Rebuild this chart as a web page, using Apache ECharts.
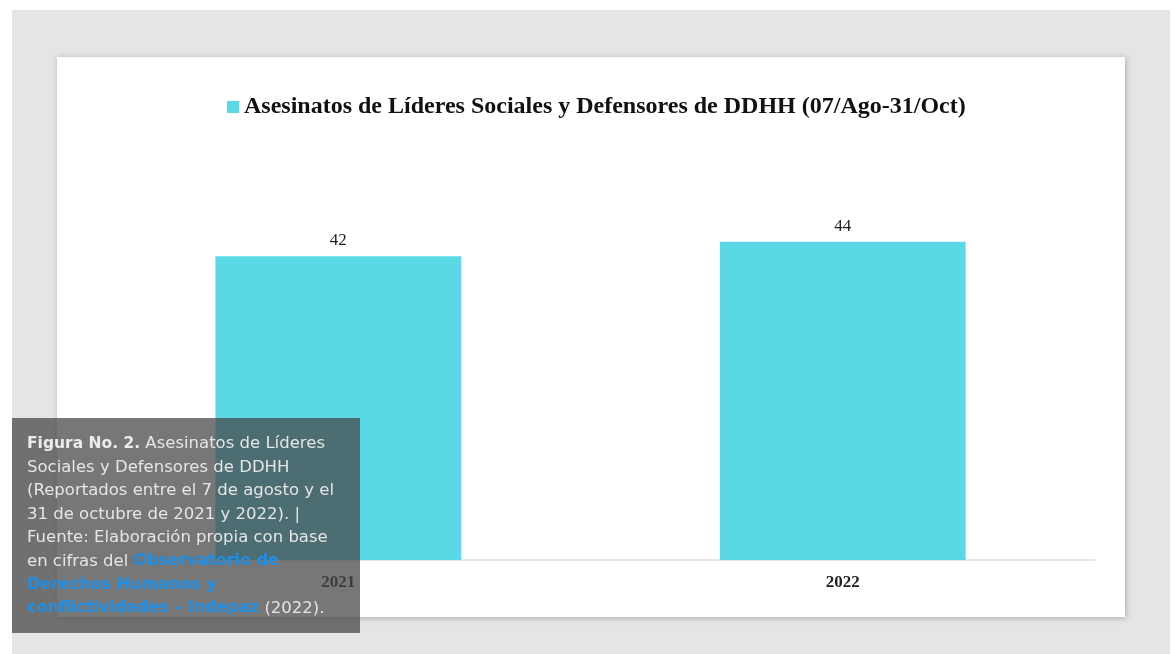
<!DOCTYPE html>
<html>
<head>
<meta charset="utf-8">
<script src="https://cdn.jsdelivr.net/npm/echarts@6/dist/echarts.min.js"></script>
<style>
html,body{margin:0;padding:0;background:#fff;}
#c{width:1173px;height:654px;}
</style>
</head>
<body>
<div id="c"></div>
<script>
const categories = ['2021', '2022'];
const seriesName = 'Asesinatos de Líderes Sociales y Defensores de DDHH (07/Ago-31/Oct)';
const values = [42, 44];
const captionLines = [
  [['b', 'Figura No. 2.'], ['n', ' Asesinatos de Líderes']],
  [['n', 'Sociales y Defensores de DDHH']],
  [['n', '(Reportados entre el 7 de agosto y el']],
  [['n', '31 de octubre de 2021 y 2022). |']],
  [['n', 'Fuente: Elaboración propia con base']],
  [['n', 'en cifras del '], ['l', 'Observatorio de']],
  [['l', 'Derechos Humanos y']],
  [['l', 'conflictividades – Indepaz'], ['n', ' (2022).']]
];

const captionText = captionLines.map(line => line.map(([k, t]) => '{' + k + '|' + t + '}').join('')).join('\n');

const chart = echarts.init(document.getElementById('c'));
chart.setOption({
  backgroundColor: '#ffffff',
  animation: false,
  legend: {
    top: 90,
    left: 222,
    icon: 'rect',
    itemWidth: 12,
    itemHeight: 12,
    itemGap: 6,
    textStyle: { fontFamily: 'Liberation Serif', fontWeight: 'bold', fontSize: 24, color: '#111' },
    data: [seriesName]
  },
  grid: { left: 86, right: 78, top: 126, bottom: 94, containLabel: false },
  xAxis: {
    type: 'category',
    data: categories,
    axisLine: { lineStyle: { color: '#e0e0e0', width: 1.5 } },
    axisTick: { show: false },
    axisLabel: { fontFamily: 'Liberation Serif', fontWeight: 'bold', fontSize: 17, color: '#222', margin: 14 }
  },
  yAxis: {
    type: 'value', min: 0, max: 60,
    show: false,
    splitLine: { show: false }
  },
  series: [{
    name: seriesName,
    type: 'bar',
    data: values,
    barWidth: '48.7%',
    itemStyle: { color: '#5ad8e6' },
    label: { show: true, position: 'top', distance: 7, fontFamily: 'Liberation Serif', fontSize: 17, color: '#222' }
  }],
  graphic: [
    { type: 'rect', z: -20, silent: true, shape: { x: 12, y: 10, width: 1158, height: 644 }, style: { fill: '#e6e4e5' } },
    { type: 'rect', z: -10, silent: true, shape: { x: 57, y: 57, width: 1068, height: 560 },
      style: { fill: '#ffffff', shadowBlur: 6, shadowColor: 'rgba(0,0,0,0.25)', shadowOffsetX: 1, shadowOffsetY: 1 } },
    { type: 'rect', z: 100, silent: true, shape: { x: 12, y: 418, width: 348, height: 215 }, style: { fill: 'rgba(72,72,72,0.74)' } },
    { type: 'text', z: 101, silent: true, left: 27, top: 432,
      style: {
        text: captionText,
        fontFamily: 'DejaVu Sans',
        fontSize: 16.5,
        lineHeight: 23.5,
        fill: '#ececec',
        rich: {
          b: { fontFamily: 'DejaVu Sans', fontSize: 15.5, fontWeight: 'bold', fill: '#ececec', lineHeight: 23.5 },
          n: { fontFamily: 'DejaVu Sans', fontSize: 16.5, fill: '#e6e6e6', lineHeight: 23.5 },
          l: { fontFamily: 'DejaVu Sans', fontSize: 16, fontWeight: 'bold', fill: '#1d8fe6', lineHeight: 23.5 }
        }
      }
    }
  ]
});
</script>
</body>
</html>
